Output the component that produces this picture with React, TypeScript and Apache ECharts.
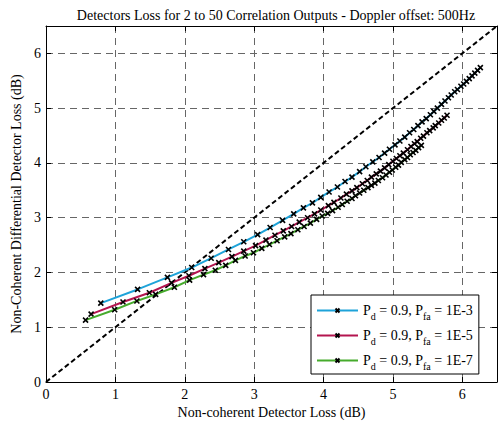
import React, { useEffect, useRef } from "react";
import * as echarts from "echarts";

const titleText = "Detectors Loss for 2 to 50 Correlation Outputs - Doppler offset: 500Hz";
const xAxisName = "Non-coherent Detector Loss (dB)";
const yAxisName = "Non-Coherent Differential Detector Loss (dB)";
const pdValue = "0.9";
const pfaLabels = ["1E-3", "1E-5", "1E-7"];
const seriesColors = ["#1ea3d9", "#b4154f", "#46ab2c"];

// Pfa = 1E-3 (N = 2..50)
const blueX = [
  0.79, 1.32, 1.75, 2.10, 2.38, 2.63, 2.85, 3.05, 3.23, 3.41,
  3.57, 3.71, 3.84, 3.96, 4.08, 4.20, 4.31, 4.41, 4.52, 4.61,
  4.71, 4.80, 4.88, 4.95, 5.03, 5.10, 5.17, 5.24, 5.30, 5.36,
  5.42, 5.48, 5.54, 5.59, 5.64, 5.70, 5.75, 5.80, 5.84, 5.89,
  5.93, 5.98, 6.02, 6.06, 6.10, 6.14, 6.18, 6.22, 6.26,
];
const blueY = [
  1.44, 1.69, 1.91, 2.09, 2.26, 2.42, 2.56, 2.69, 2.82, 2.95,
  3.07, 3.18, 3.27, 3.37, 3.47, 3.56, 3.66, 3.74, 3.84, 3.93,
  4.02, 4.10, 4.18, 4.25, 4.33, 4.40, 4.47, 4.55, 4.61, 4.68,
  4.75, 4.81, 4.88, 4.94, 5.00, 5.07, 5.13, 5.19, 5.24, 5.30,
  5.34, 5.40, 5.44, 5.49, 5.54, 5.59, 5.64, 5.69, 5.74,
];
// Pfa = 1E-5
const redX = [
  0.65, 1.11, 1.49, 1.81, 2.06, 2.29, 2.49, 2.68, 2.85, 3.02,
  3.17, 3.30, 3.42, 3.54, 3.65, 3.77, 3.87, 3.96, 4.07, 4.15,
  4.25, 4.33, 4.41, 4.48, 4.56, 4.63, 4.69, 4.76, 4.82, 4.88,
  4.94, 5.00, 5.05, 5.10, 5.15, 5.21, 5.26, 5.31, 5.35, 5.40,
  5.44, 5.49, 5.53, 5.58, 5.61, 5.66, 5.70, 5.74, 5.78,
];
const redY = [
  1.24, 1.46, 1.63, 1.81, 1.94, 2.07, 2.18, 2.29, 2.39, 2.49,
  2.59, 2.68, 2.76, 2.84, 2.92, 3.00, 3.07, 3.14, 3.22, 3.28,
  3.36, 3.43, 3.49, 3.55, 3.62, 3.68, 3.74, 3.80, 3.85, 3.91,
  3.97, 4.03, 4.08, 4.13, 4.18, 4.24, 4.30, 4.35, 4.39, 4.45,
  4.49, 4.55, 4.59, 4.64, 4.68, 4.73, 4.78, 4.82, 4.87,
];
// Pfa = 1E-7
const greenX = [
  0.57, 0.99, 1.31, 1.58, 1.85, 2.07, 2.27, 2.44, 2.59, 2.73,
  2.87, 2.99, 3.11, 3.22, 3.33, 3.44, 3.53, 3.63, 3.72, 3.81,
  3.90, 3.98, 4.06, 4.13, 4.21, 4.27, 4.34, 4.41, 4.46, 4.52,
  4.58, 4.64, 4.69, 4.74, 4.79, 4.85, 4.90, 4.95, 4.99, 5.04,
  5.08, 5.12, 5.17, 5.21, 5.25, 5.29, 5.33, 5.37, 5.41,
];
const greenY = [
  1.13, 1.32, 1.48, 1.60, 1.73, 1.86, 1.96, 2.04, 2.13, 2.22,
  2.30, 2.36, 2.44, 2.51, 2.58, 2.65, 2.71, 2.78, 2.84, 2.90,
  2.97, 3.03, 3.08, 3.13, 3.19, 3.24, 3.30, 3.35, 3.40, 3.45,
  3.50, 3.55, 3.59, 3.63, 3.68, 3.73, 3.78, 3.83, 3.87, 3.92,
  3.96, 4.01, 4.06, 4.10, 4.15, 4.19, 4.23, 4.28, 4.32,
];
// y = x reference line
const refX = [0, 6.5];
const refY = [0, 6.5];

const FONT = "'Liberation Serif', 'Times New Roman', serif";
const X_MARK = "path://M0,0L10,10M10,0L0,10";

export default function App() {
  const ref = useRef<HTMLDivElement>(null);
  useEffect(() => {
    if (!ref.current) return;
    const chart = echarts.init(ref.current, null, { renderer: "svg" });
    const xs = [blueX, redX, greenX];
    const ys = [blueY, redY, greenY];
    const names = pfaLabels.map((p) => `Pd = ${pdValue}, Pfa = ${p}`);
    const legendText: Record<string, string> = {};
    names.forEach((n, i) => {
      legendText[n] = `{n|P}{s|d}{n| = ${pdValue}, P}{s|fa}{n| = ${pfaLabels[i]}}`;
    });
    const axisCommon = {
      type: "value" as const,
      min: 0,
      max: 6.5,
      interval: 1,
      axisLine: { show: true, onZero: false, lineStyle: { color: "#000", width: 1 } },
      axisTick: { show: true, inside: true, length: 5, lineStyle: { color: "#000" } },
    };
    chart.setOption({
      animation: false,
      backgroundColor: "#fff",
      title: {
        text: titleText,
        left: 271,
        textAlign: "center",
        top: 3,
        textStyle: { fontFamily: FONT, fontSize: 14, fontWeight: "normal", color: "#000" },
      },
      grid: { left: 46, right: 5, top: 26, bottom: 44, containLabel: false },
      xAxis: [
        {
          ...axisCommon,
          position: "bottom",
          name: xAxisName,
          nameLocation: "middle",
          nameGap: 21,
          nameTextStyle: { fontFamily: FONT, fontSize: 14, color: "#000" },
          axisLabel: {
            fontFamily: FONT, fontSize: 14, color: "#000", margin: 5, showMaxLabel: false,
            formatter: (v: number) => (Number.isInteger(v) ? String(v) : ""),
          },
          splitLine: { show: true, lineStyle: { color: "#666", type: [7, 5], width: 1 } },
        },
        {
          ...axisCommon,
          position: "top",
          axisLabel: { show: false },
          splitLine: { show: false },
        },
      ],
      yAxis: [
        {
          ...axisCommon,
          position: "left",
          name: yAxisName,
          nameLocation: "middle",
          nameGap: 22,
          nameRotate: 90,
          nameTextStyle: { fontFamily: FONT, fontSize: 14, color: "#000" },
          axisLabel: {
            fontFamily: FONT, fontSize: 14, color: "#000", margin: 5, showMaxLabel: false,
            formatter: (v: number) => (Number.isInteger(v) ? String(v) : ""),
          },
          splitLine: { show: true, lineStyle: { color: "#666", type: [7, 5], width: 1 } },
        },
        {
          ...axisCommon,
          position: "right",
          axisLabel: { show: false },
          splitLine: { show: false },
        },
      ],
      legend: {
        data: names,
        orient: "vertical",
        left: 311,
        top: 295,
        itemWidth: 41,
        itemHeight: 5,
        itemGap: 4,
        backgroundColor: "#fff",
        borderColor: "#000",
        borderWidth: 1,
        borderRadius: 0,
        padding: [5, 6, 3, 5],
        formatter: (name: string) => legendText[name],
        textStyle: {
          fontFamily: FONT,
          fontSize: 14,
          color: "#000",
          rich: {
            n: { fontFamily: FONT, fontSize: 14, color: "#000", lineHeight: 21 },
            s: { fontFamily: FONT, fontSize: 10, color: "#000", lineHeight: 10, padding: [11, 0, 0, 0] },
          },
        },
      },
      series: [
        ...names.map((name, i) => ({
          name,
          type: "line",
          data: xs[i].map((x, j) => [x, ys[i][j]]),
          xAxisIndex: 0,
          yAxisIndex: 0,
          symbol: X_MARK,
          symbolSize: 5,
          showAllSymbol: true,
          lineStyle: { color: seriesColors[i], width: 2 },
          itemStyle: { color: "#000", borderColor: "#000", borderWidth: 1.6 },
          z: 3 + i,
        })),
        {
          name: "ref",
          type: "line",
          data: refX.map((x, j) => [x, refY[j]]),
          symbol: "none",
          lineStyle: { color: "#000", width: 2, type: [5, 3] },
          z: 2,
        },
      ],
    });
    return () => chart.dispose();
  }, []);
  return (
    <div
      ref={ref}
      style={{ position: "absolute", left: 0, top: 0, width: 502, height: 426, background: "#fff" }}
    />
  );
}
